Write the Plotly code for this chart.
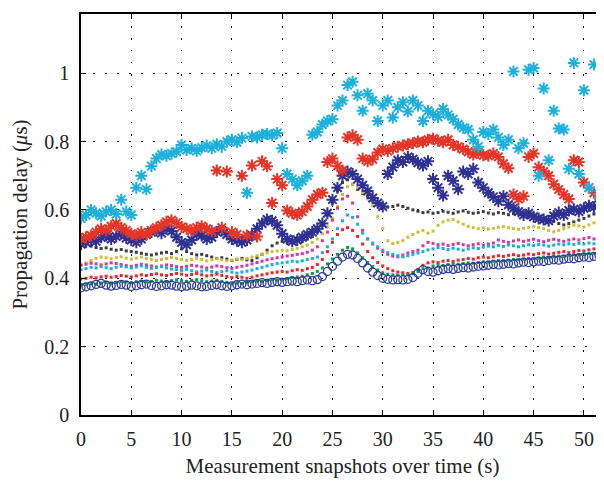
import plotly.graph_objects as go

# time grid (s): 0, 0.5, ..., 52
TIME = [i * 0.5 for i in range(105)]

BLUE_CIRCLES = [
    0.372,0.375,0.378,0.382,0.385,0.380,0.377,0.379,0.382,0.380,
    0.376,0.378,0.381,0.383,0.379,0.376,0.378,0.381,0.380,0.377,
    0.375,0.377,0.380,0.378,0.375,0.376,0.379,0.381,0.378,0.376,
    0.378,0.381,0.383,0.381,0.383,0.385,0.387,0.385,0.388,0.390,
    0.388,0.390,0.392,0.390,0.393,0.395,0.393,0.396,0.405,0.420,
    0.435,0.450,0.462,0.470,0.468,0.458,0.445,0.430,0.418,0.408,
    0.400,0.397,0.395,0.396,0.395,0.397,0.402,0.415,0.425,0.420,
    0.418,0.422,0.426,0.428,0.426,0.429,0.431,0.430,0.433,0.435,
    0.436,0.438,0.440,0.439,0.441,0.443,0.442,0.445,0.447,0.446,
    0.448,0.450,0.449,0.452,0.454,0.453,0.456,0.458,0.457,0.460,
    0.462,0.461,0.464,0.467,0.469]

GREEN_DOTS = [
    0.380,0.382,0.384,0.383,0.386,0.388,0.385,0.387,0.390,0.389,
    0.387,0.390,0.392,0.389,0.391,0.394,0.392,0.390,0.393,0.395,
    0.393,0.391,0.394,0.396,0.393,0.390,0.392,0.394,0.391,0.388,
    0.384,0.386,0.385,0.388,0.390,0.392,0.391,0.394,0.396,0.395,
    0.397,0.399,0.402,0.404,0.406,0.410,0.414,0.420,0.430,0.442,
    0.456,0.470,0.482,0.490,0.486,0.474,0.460,0.446,0.434,0.424,
    0.416,0.412,0.410,0.409,0.411,0.410,0.413,0.420,0.428,0.430,
    0.436,0.438,0.437,0.440,0.442,0.441,0.443,0.445,0.444,0.446,
    0.448,0.447,0.450,0.452,0.451,0.453,0.455,0.454,0.456,0.458,
    0.457,0.459,0.462,0.460,0.463,0.465,0.464,0.467,0.469,0.468,
    0.470,0.473,0.472,0.475,0.478]

RED_DOTS = [
    0.398,0.400,0.403,0.401,0.404,0.406,0.403,0.405,0.408,0.406,
    0.404,0.407,0.410,0.408,0.411,0.413,0.410,0.408,0.411,0.414,
    0.412,0.409,0.411,0.414,0.410,0.407,0.409,0.412,0.408,0.405,
    0.402,0.405,0.403,0.400,0.403,0.407,0.410,0.413,0.416,0.418,
    0.420,0.418,0.422,0.425,0.423,0.428,0.432,0.440,0.455,0.478,
    0.505,0.528,0.542,0.548,0.540,0.522,0.500,0.478,0.460,0.446,
    0.436,0.428,0.422,0.418,0.416,0.414,0.417,0.426,0.438,0.445,
    0.448,0.446,0.450,0.452,0.449,0.453,0.455,0.458,0.456,0.460,
    0.462,0.460,0.463,0.466,0.464,0.467,0.469,0.466,0.468,0.471,
    0.469,0.472,0.474,0.471,0.473,0.476,0.478,0.475,0.478,0.481,
    0.480,0.483,0.486,0.485,0.488]

CYAN_DOTS = [
    0.425,0.428,0.432,0.430,0.434,0.431,0.428,0.432,0.435,0.433,
    0.430,0.433,0.436,0.432,0.429,0.431,0.434,0.430,0.427,0.425,
    0.423,0.426,0.422,0.419,0.421,0.424,0.420,0.417,0.419,0.422,
    0.418,0.415,0.418,0.421,0.424,0.428,0.432,0.436,0.440,0.443,
    0.445,0.447,0.450,0.448,0.451,0.455,0.458,0.462,0.475,0.492,
    0.515,0.545,0.568,0.585,0.578,0.558,0.532,0.515,0.503,0.492,
    0.482,0.475,0.470,0.466,0.463,0.466,0.470,0.474,0.478,0.483,
    0.486,0.490,0.487,0.484,0.488,0.485,0.482,0.486,0.489,0.487,
    0.491,0.494,0.492,0.496,0.493,0.497,0.495,0.492,0.495,0.498,
    0.496,0.499,0.497,0.494,0.497,0.500,0.498,0.501,0.499,0.502,
    0.500,0.503,0.501,0.504,0.506]

MAGENTA_DOTS = [
    0.438,0.441,0.444,0.442,0.439,0.442,0.445,0.443,0.440,0.437,
    0.435,0.438,0.441,0.439,0.436,0.433,0.436,0.439,0.437,0.434,
    0.432,0.435,0.438,0.436,0.433,0.430,0.433,0.436,0.434,0.431,
    0.429,0.432,0.435,0.438,0.442,0.446,0.450,0.454,0.457,0.460,
    0.462,0.465,0.467,0.470,0.472,0.476,0.482,0.492,0.510,0.535,
    0.570,0.605,0.632,0.640,0.620,0.580,0.540,0.515,0.500,0.488,
    0.478,0.470,0.465,0.463,0.468,0.474,0.478,0.482,0.495,0.505,
    0.502,0.498,0.500,0.496,0.499,0.502,0.498,0.495,0.498,0.501,
    0.497,0.500,0.503,0.512,0.508,0.505,0.509,0.512,0.508,0.511,
    0.514,0.510,0.507,0.511,0.514,0.511,0.508,0.512,0.515,0.512,
    0.516,0.519,0.515,0.518,0.522]

YELLOW_DOTS = [
    0.440,0.445,0.452,0.458,0.462,0.460,0.457,0.460,0.463,0.459,
    0.456,0.459,0.462,0.458,0.455,0.452,0.455,0.458,0.461,0.458,
    0.455,0.452,0.455,0.458,0.455,0.451,0.454,0.457,0.454,0.451,
    0.453,0.456,0.454,0.458,0.462,0.466,0.470,0.474,0.478,0.480,
    0.482,0.480,0.484,0.488,0.492,0.497,0.505,0.515,0.530,0.550,
    0.575,0.610,0.645,0.668,0.675,0.665,0.650,0.632,0.612,0.580,
    0.545,0.510,0.502,0.505,0.510,0.520,0.528,0.535,0.540,0.532,
    0.538,0.555,0.565,0.570,0.572,0.565,0.558,0.552,0.548,0.545,
    0.547,0.544,0.546,0.549,0.551,0.548,0.545,0.543,0.546,0.549,
    0.552,0.548,0.545,0.540,0.536,0.540,0.545,0.550,0.555,0.553,
    0.550,0.556,0.562,0.566,0.570]

BLACK_DOTS = [
    0.495,0.498,0.494,0.490,0.487,0.489,0.485,0.482,0.484,0.480,
    0.478,0.476,0.473,0.470,0.468,0.471,0.474,0.476,0.472,0.478,
    0.486,0.478,0.472,0.468,0.470,0.466,0.462,0.458,0.460,0.456,
    0.452,0.455,0.458,0.454,0.452,0.460,0.470,0.482,0.495,0.503,
    0.508,0.505,0.510,0.512,0.508,0.515,0.522,0.535,0.555,0.585,
    0.620,0.655,0.680,0.688,0.675,0.660,0.648,0.640,0.628,0.618,
    0.612,0.608,0.610,0.614,0.610,0.605,0.600,0.596,0.592,0.594,
    0.590,0.592,0.596,0.593,0.590,0.594,0.597,0.593,0.590,0.592,
    0.595,0.591,0.588,0.592,0.590,0.586,0.589,0.592,0.585,0.580,
    0.578,0.574,0.570,0.572,0.566,0.560,0.556,0.560,0.565,0.570,
    0.575,0.582,0.588,0.595,0.600]

BLUE_STARS = [
    0.500,0.505,0.512,0.508,0.520,0.525,0.515,0.522,0.530,0.518,
    0.512,0.505,0.515,0.528,0.535,0.540,0.532,0.545,0.538,0.520,
    0.505,0.498,0.512,0.530,0.525,0.515,0.520,0.535,0.540,0.528,
    0.515,0.510,0.505,0.512,0.525,0.545,0.560,0.572,0.568,0.555,
    0.530,0.515,0.508,0.512,0.520,0.528,0.535,0.545,0.560,0.590,
    0.630,0.665,0.700,0.712,0.705,0.690,0.672,0.655,0.635,0.620,
    0.610,0.705,0.725,0.745,0.740,0.755,0.748,0.738,0.730,0.742,
    0.690,0.665,0.642,0.700,0.685,0.660,0.712,0.705,0.720,0.680,
    0.665,0.650,0.638,0.625,0.640,0.615,0.605,0.595,0.585,0.590,
    0.580,0.575,0.572,0.568,0.582,0.592,0.585,0.598,0.602,0.595,
    0.605,0.612,0.608,0.615,0.620]

RED_STARS = [
    0.515,0.520,0.525,0.535,0.545,0.540,0.552,0.560,0.548,0.540,
    0.530,0.525,0.535,0.528,0.540,0.548,0.555,0.565,0.570,0.562,
    0.550,0.545,0.540,0.548,0.552,0.545,0.538,0.715,0.548,0.712,
    0.535,0.528,0.700,0.525,0.730,0.522,0.742,0.728,0.620,0.690,
    0.672,0.598,0.590,0.585,0.595,0.610,0.630,0.645,0.650,0.740,
    0.750,0.728,0.715,0.812,0.818,0.805,0.750,0.742,0.748,0.768,
    0.778,0.772,0.780,0.785,0.788,0.792,0.795,0.800,0.798,0.805,
    0.808,0.802,0.798,0.805,0.790,0.785,0.778,0.770,0.762,0.768,
    0.760,0.758,0.765,0.755,0.735,0.722,0.645,0.632,0.640,0.755,
    0.765,0.725,0.712,0.700,0.675,0.660,0.645,0.632,0.745,0.740,
    0.680,0.665,0.650,0.640,0.660]

CYAN_STARS = [
    0.575,0.585,0.600,0.590,0.582,0.595,0.600,0.588,0.630,0.595,
    0.585,0.665,0.700,0.660,0.728,0.750,0.762,0.758,0.765,0.770,
    0.790,0.775,0.780,0.772,0.782,0.788,0.780,0.792,0.785,0.800,
    0.805,0.798,0.810,0.650,0.815,0.812,0.820,0.822,0.818,0.825,
    0.780,0.705,0.690,0.672,0.685,0.700,0.820,0.828,0.850,0.860,
    0.865,0.905,0.920,0.965,0.975,0.935,0.890,0.940,0.920,0.860,
    0.905,0.920,0.870,0.900,0.915,0.888,0.920,0.905,0.860,0.890,
    0.880,0.872,0.895,0.878,0.865,0.850,0.840,0.835,0.805,0.785,
    0.828,0.822,0.835,0.812,0.790,0.805,1.005,0.780,0.795,1.010,
    1.015,0.700,0.955,0.745,0.890,0.838,0.835,0.720,1.030,0.705,
    0.950,0.665,1.025,0.645,1.130]

X_TICKS = [0, 5, 10, 15, 20, 25, 30, 35, 40, 45, 50]
Y_TICKS = [0, 0.2, 0.4, 0.6, 0.8, 1]
Y_TICK_TEXT = ["0", "0.2", "0.4", "0.6", "0.8", "1"]

FONT = "Liberation Serif"

fig = go.Figure()

def dots(vals, color):
    fig.add_trace(go.Scatter(
        x=TIME[:len(vals)], y=vals, mode="markers",
        marker=dict(symbol="square", size=3, color=color, line=dict(width=0)),
        showlegend=False, hoverinfo="skip"))

dots(BLACK_DOTS, "#3c3c3c")
dots(YELLOW_DOTS, "#cdbf3a")
dots(MAGENTA_DOTS, "#d8359e")
dots(CYAN_DOTS, "#18aee0")
dots(RED_DOTS, "#e8262c")
dots(GREEN_DOTS, "#0f9a4c")

fig.add_trace(go.Scatter(
    x=TIME[:len(BLUE_CIRCLES)], y=BLUE_CIRCLES, mode="markers",
    marker=dict(symbol="circle-open", size=8, color="#2d3a94", line=dict(width=1.3)),
    showlegend=False, hoverinfo="skip"))

def stars(vals, color):
    fig.add_trace(go.Scatter(
        x=TIME[:len(vals)], y=vals, mode="markers",
        marker=dict(symbol="asterisk-open", size=10, color=color, line=dict(width=2, color=color)),
        showlegend=False, hoverinfo="skip"))

stars(BLUE_STARS, "#2e3192")
stars(RED_STARS, "#e53528")
stars(CYAN_STARS, "#1eb0dc")

axis_common = dict(
    showline=True, linecolor="black", linewidth=1.5,
    ticks="inside", ticklen=5, tickwidth=1.2, tickcolor="black",
    showgrid=True, gridcolor="black", gridwidth=1, griddash="1.5px,10.5px",
    zeroline=False, automargin=False,
    tickfont=dict(family=FONT, size=20, color="#222"),
)

# the page body adds an 8px offset; margins compensate so the plot area
# lands at the reference position within the 604x484 window
fig.update_layout(
    width=604, height=484,
    margin=dict(l=73, r=8, t=6, b=77, autoexpand=False),
    paper_bgcolor="white", plot_bgcolor="white",
    xaxis=dict(range=[0, 52], tickvals=X_TICKS, mirror="ticks",
               ticklabelstandoff=5,
               title=dict(text="Measurement snapshots over time (s)",
                          font=dict(family=FONT, size=21, color="#222"), standoff=10),
               **axis_common),
    yaxis=dict(range=[0, 1.173], tickvals=Y_TICKS, ticktext=Y_TICK_TEXT,
               mirror=False, ticklabelstandoff=6,
               title=dict(text="Propagation delay (<i>μ</i>s)",
                          font=dict(family=FONT, size=21, color="#222"), standoff=12),
               **axis_common),
    yaxis2=dict(range=[0, 1.173], tickvals=Y_TICKS, overlaying="y", side="right",
                showline=False, showgrid=False, zeroline=False, showticklabels=False,
                automargin=False,
                ticks="inside", ticklen=5, tickwidth=1.2, tickcolor="black"),
)
# invisible trace to activate the right-side axis ticks
fig.add_trace(go.Scatter(x=[None], y=[None], yaxis="y2", showlegend=False, hoverinfo="skip"))

fig.write_html("out.html")
